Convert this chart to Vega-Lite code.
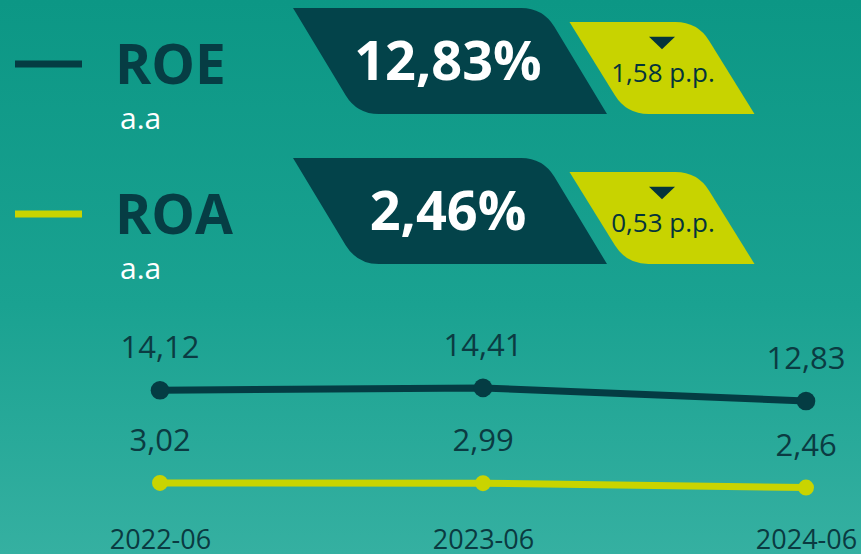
{
  "$schema": "https://vega.github.io/schema/vega-lite/v6.json",
  "width": 861,
  "height": 554,
  "autosize": {"type": "fit", "contains": "padding"},
  "padding": 0,
  "background": "#33afa0",
  "config": {
    "view": {"stroke": null},
    "font": "Open Sans",
    "locale": {"number": {"decimal": ",", "thousands": ".", "grouping": [3], "currency": ["R$ ", ""]}}
  },
  "datasets": {
    "bg": [{"panel": "background"}],
    "series": [
      {"period": "2022-06", "metric": "ROE", "value": 14.12},
      {"period": "2023-06", "metric": "ROE", "value": 14.41},
      {"period": "2024-06", "metric": "ROE", "value": 12.83},
      {"period": "2022-06", "metric": "ROA", "value": 3.02},
      {"period": "2023-06", "metric": "ROA", "value": 2.99},
      {"period": "2024-06", "metric": "ROA", "value": 2.46}
    ],
    "kpi": [
      {"metric": "ROE", "unit": "a.a", "current": 12.83, "current_label": "12,83%", "change": -1.58, "change_label": "1,58 p.p."},
      {"metric": "ROA", "unit": "a.a", "current": 2.46, "current_label": "2,46%", "change": -0.53, "change_label": "0,53 p.p."}
    ]
  },
  "layer": [
    {
      "data": {"name": "bg"},
      "mark": {
        "type": "rect",
        "color": {
          "gradient": "linear", "x1": 0, "y1": 0, "x2": 0, "y2": 1,
          "stops": [
            {"offset": 0, "color": "#0c9785"},
            {"offset": 0.55, "color": "#1aa291"},
            {"offset": 1, "color": "#35b0a1"}
          ]
        }
      },
      "encoding": {}
    },
    {
      "data": {"name": "series"},
      "encoding": {
        "x": {
          "field": "period", "type": "ordinal",
          "scale": {"type": "point", "domain": ["2022-06", "2023-06", "2024-06"], "range": [160, 806], "padding": 0},
          "axis": {"title": null, "domain": false, "ticks": false, "tickSize": 0, "grid": false, "zindex": 2, "labelPadding": -6, "labelBaseline": "alphabetic", "labelFontSize": 27, "labelColor": "#0a3a41", "labelFont": "Open Sans", "labelAngle": 0}
        },
        "y": {"field": "value", "type": "quantitative", "scale": {"domain": [-5.5, 60.9], "nice": false, "zero": false}, "axis": null}
      },
      "layer": [
        {
          "mark": {"type": "line", "strokeWidth": 7},
          "encoding": {
            "color": {"field": "metric", "type": "nominal", "scale": {"domain": ["ROE", "ROA"], "range": ["#043c43", "#c9d400"]}, "legend": null}
          }
        },
        {
          "mark": {"type": "point", "filled": true, "opacity": 1, "strokeWidth": 0},
          "encoding": {
            "color": {"field": "metric", "type": "nominal", "scale": {"domain": ["ROE", "ROA"], "range": ["#043c43", "#c9d400"]}, "legend": null},
            "size": {"field": "metric", "type": "nominal", "scale": {"domain": ["ROE", "ROA"], "range": [346, 254]}, "legend": null}
          }
        },
        {
          "mark": {"type": "text", "dy": -32, "baseline": "alphabetic", "fontSize": 31, "color": "#0b3b42", "font": "Open Sans"},
          "encoding": {"text": {"field": "value", "type": "quantitative", "format": ".2f"}}
        }
      ]
    },
    {
      "data": {"name": "kpi"},
      "encoding": {
        "y": {"field": "metric", "type": "nominal", "scale": {"type": "point", "domain": ["ROE", "ROA"], "range": [61, 211], "padding": 0}, "axis": null}
      },
      "layer": [
        {
          "mark": {"type": "rule", "strokeWidth": 7, "yOffset": 3},
          "encoding": {
            "x": {"datum": 15, "type": "quantitative", "scale": {"domain": [0, 861], "nice": false, "zero": false}, "axis": null},
            "x2": {"datum": 82},
            "color": {"field": "metric", "type": "nominal", "scale": {"domain": ["ROE", "ROA"], "range": ["#043c43", "#c9d400"]}, "legend": null}
          }
        },
        {
          "mark": {"type": "text", "align": "left", "baseline": "alphabetic", "dy": 23, "fontSize": 55, "fontWeight": "bold", "color": "#063d44", "font": "Open Sans"},
          "encoding": {
            "x": {"datum": 115, "type": "quantitative"},
            "text": {"field": "metric"}
          }
        },
        {
          "mark": {"type": "text", "align": "left", "baseline": "alphabetic", "dy": 68, "fontSize": 30, "color": "#ffffff", "font": "Open Sans"},
          "encoding": {
            "x": {"datum": 120, "type": "quantitative"},
            "text": {"field": "unit"}
          }
        },
        {
          "mark": {"type": "point", "filled": true, "opacity": 1, "strokeWidth": 0, "color": "#03434a", "size": 11236,
            "shape": "M-2.962,-1L1.34,-1Q1.755,-1 1.969,-0.645L2.962,1L-1.34,1Q-1.755,1 -1.969,0.645Z"},
          "encoding": {"x": {"datum": 450, "type": "quantitative"}}
        },
        {
          "mark": {"type": "text", "align": "center", "baseline": "alphabetic", "dy": 19, "fontSize": 54, "fontWeight": "bold", "color": "#ffffff", "font": "Open Sans"},
          "encoding": {
            "x": {"datum": 448, "type": "quantitative"},
            "text": {"field": "current_label"}
          }
        },
        {
          "mark": {"type": "point", "filled": true, "opacity": 1, "strokeWidth": 0, "color": "#c8d300", "size": 8464,
            "shape": "M-2.011,-0.848L0.294,-0.848Q0.772,-0.848 1.024,-0.442L2.011,1.152L-0.294,1.152Q-0.772,1.152 -1.024,0.746Z"},
          "encoding": {"x": {"datum": 662, "type": "quantitative"}}
        },
        {
          "mark": {"type": "point", "filled": true, "opacity": 1, "strokeWidth": 0, "color": "#04343b", "size": 676,
            "shape": "M-1,-1.865L1,-1.865L0,-0.905Z"},
          "encoding": {"x": {"datum": 662, "type": "quantitative"}}
        },
        {
          "mark": {"type": "text", "align": "center", "baseline": "alphabetic", "dy": 21, "fontSize": 26, "color": "#04343b", "font": "Open Sans"},
          "encoding": {
            "x": {"datum": 663, "type": "quantitative"},
            "text": {"field": "change_label"}
          }
        }
      ]
    }
  ],
  "resolve": {"scale": {"x": "independent", "y": "independent"}}
}
